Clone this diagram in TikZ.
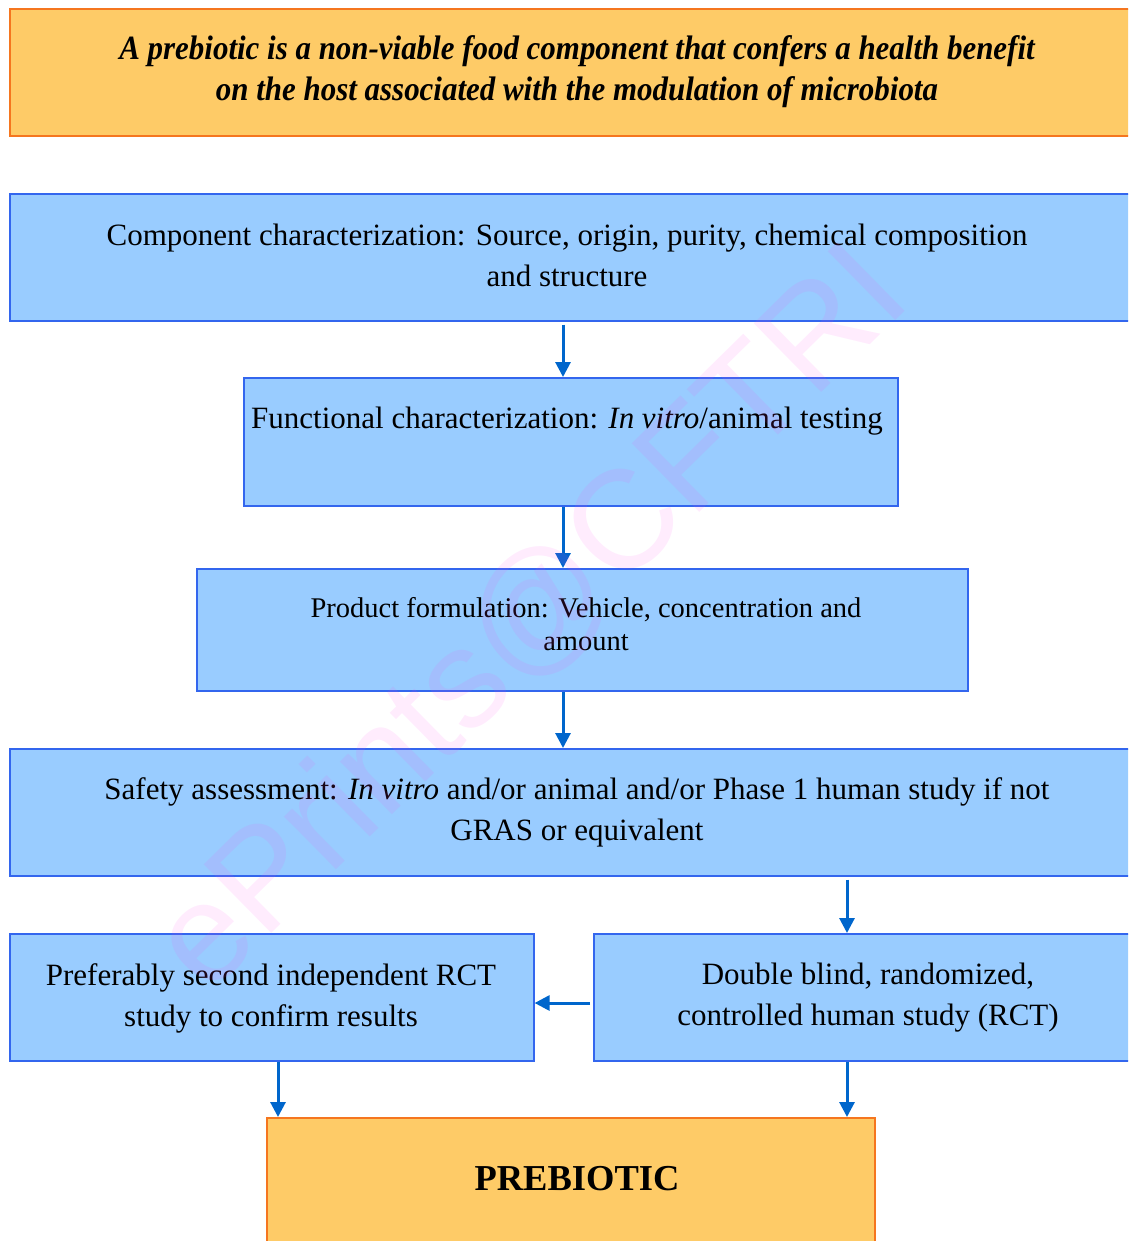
\documentclass[tikz,border=0pt]{standalone}
\usepackage{fontspec}
\setmainfont{Liberation Serif}
\setsansfont{Liberation Sans}
\usetikzlibrary{arrows.meta}
\definecolor{orfill}{HTML}{FECB67}
\definecolor{ordraw}{HTML}{F5761F}
\definecolor{blfill}{HTML}{99CCFF}
\definecolor{bldraw}{HTML}{3366EE}
\definecolor{arr}{HTML}{0066CC}
\definecolor{wm}{HTML}{FF44EE}
\begin{document}
\begin{tikzpicture}[x=1pt,y=-1pt,
  obox/.style={draw=ordraw,fill=orfill,line width=2pt,anchor=north west,inner sep=0pt},
  bbox/.style={draw=bldraw,fill=blfill,line width=1.6pt,anchor=north west,inner sep=0pt},
  txt/.style={align=center,inner sep=0pt,font=\fontsize{31}{41}\selectfont},
  stxt/.style={align=center,inner sep=0pt,font=\fontsize{28.5}{33}\selectfont},
  conn/.style={draw=arr,line width=3pt,-{Triangle[length=15pt,width=15pt]}}]
\useasboundingbox (0,0) rectangle (1128,1241);
\begin{scope}
\clip (0,0) rectangle (1128,1241);
% boxes
\node[obox,minimum width=1130pt,minimum height=127pt] (top) at (9,8) {};
\node[bbox,minimum width=1130pt,minimum height=127pt] (b1) at (9,193) {};
\node[bbox,minimum width=654pt,minimum height=128pt] (b2) at (243,377) {};
\node[bbox,minimum width=771pt,minimum height=122pt] (b3) at (196,568) {};
\node[bbox,minimum width=1130pt,minimum height=127pt] (b4) at (9,748) {};
\node[bbox,minimum width=524pt,minimum height=127pt] (b5) at (9,933) {};
\node[bbox,minimum width=545pt,minimum height=127pt] (b6) at (593,933) {};
\node[obox,minimum width=608pt,minimum height=140pt] (pre) at (266,1117) {};
% texts
\node[txt,font=\fontsize{34}{41}\selectfont\bfseries\itshape,xscale=0.91] (ttop) at (577,72) {A prebiotic is a non-viable food component that confers a health benefit\\on the host associated with the modulation of microbiota};
\node[txt] (t1) at (567,255) {Component characterization: Source, origin, purity, chemical composition\\and structure};
\node[txt] (t2) at (567,421) {Functional characterization: \textit{In vitro}/animal testing};
\node[stxt] (t3) at (586,624) {Product formulation: Vehicle, concentration and\\amount};
\node[txt] (t4) at (577,812) {Safety assessment: \textit{In vitro} and/or animal and/or Phase 1 human study if not\\GRAS or equivalent};
\node[txt] (t5) at (271,998) {Preferably second independent RCT\\study to confirm results};
\node[txt] (t6) at (868,998) {Double blind, randomized,\\controlled human study (RCT)};
\node[txt,font=\fontsize{36.5}{41}\selectfont\bfseries] (t7) at (577,1179) {PREBIOTIC};
% connectors
\coordinate (c1) at (563,1003);
\draw[conn] (b1.south -| 563,0) ++(0,3) -- (b2.north -| 563,0);
\draw[conn] (b2.south -| 563,0) -- (b3.north -| 563,0);
\draw[conn] (b3.south -| 563,0) -- (b4.north -| 563,0);
\draw[conn] (b4.south -| 847,0) ++(0,3) -- (b6.north -| 847,0);
\draw[conn] (b6.west |- c1) ++(-3,0) -- (b5.east |- c1);
\draw[conn] (b5.south -| 278,0) -- (pre.north -| 278,0);
\draw[conn] (b6.south -| 847,0) -- (pre.north -| 847,0);
% watermark
\node[font=\sffamily\fontsize{140}{140}\selectfont,text=wm,opacity=0.10,rotate=44.5,inner sep=0pt] (wmk) at (532,620) {ePrints@CFTRI};
\end{scope}
\end{tikzpicture}
\end{document}
